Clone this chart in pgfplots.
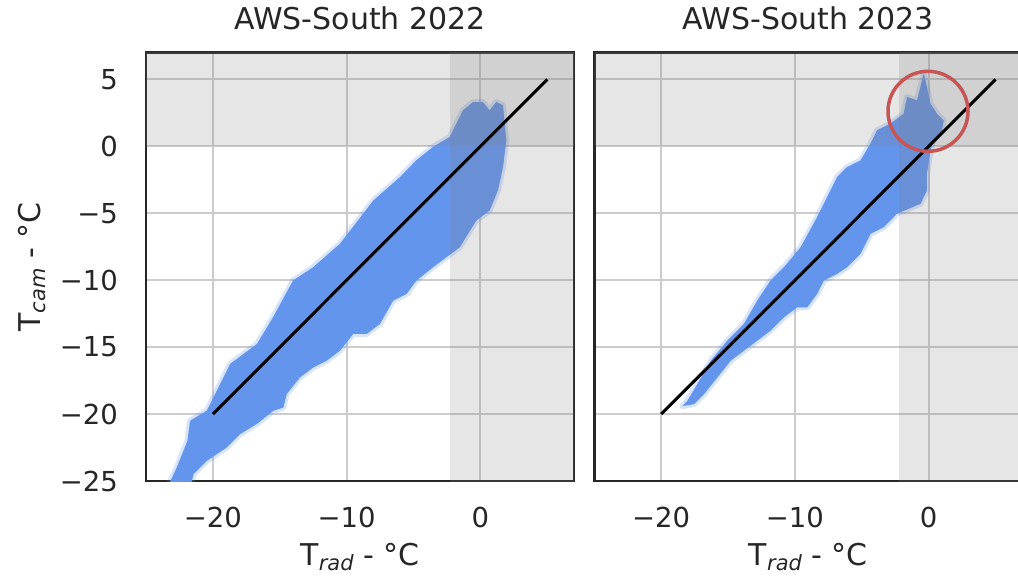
\documentclass[border=0pt]{standalone}
\usepackage{pgfplots}
\pgfplotsset{compat=1.18}
\usepackage{pgfplotstable}
\usepackage{fontspec}
\setmainfont{DejaVu Sans}
\definecolor{cblue}{RGB}{100,149,237}
\definecolor{spine}{RGB}{38,38,38}
\definecolor{circ}{RGB}{200,85,85}

\pgfplotstableread{
x y
-23.4 -25.5
-22.7 -24.0
-21.9 -22.0
-21.7 -20.5
-20.45 -19.75
-18.7 -16.25
-16.7 -14.76
-15.5 -12.77
-14.0 -10.02
-12.5 -9.03
-10.5 -7.28
-9.25 -5.66
-8.0 -4.04
-6.0 -2.29
-4.8 -1.05
-3.55 -0.05
-2.3 0.70
-1.3 2.69
-0.55 3.31
0.19 3.31
0.69 2.69
1.19 3.31
1.69 3.07
1.81 1.70
1.94 0.45
1.69 -1.55
1.31 -3.29
0.69 -4.79
-0.3 -5.53
-1.54 -7.53
-2.54 -8.28
-3.54 -9.03
-4.78 -10.02
-5.52 -11.02
-6.52 -11.52
-7.51 -13.26
-8.51 -14.01
-9.51 -14.01
-10.5 -15.26
-11.49 -16.01
-12.49 -16.51
-13.49 -17.26
-14.48 -18.50
-14.73 -19.50
-15.48 -19.75
-16.72 -20.74
-17.96 -21.49
-18.96 -22.49
-20.45 -23.49
-21.45 -24.48
-21.7 -25.5
}\cloudA

\pgfplotstableread{
x y
-18.4 -19.4
-18.03 -19.00
-17.29 -17.75
-16.29 -16.01
-15.05 -14.51
-13.81 -13.26
-12.81 -11.52
-11.82 -10.02
-10.82 -9.03
-9.57 -7.53
-8.34 -5.29
-7.59 -3.79
-6.84 -2.29
-6.10 -1.55
-5.10 -1.05
-4.35 0.20
-3.86 1.20
-2.86 1.70
-1.87 2.44
-1.62 3.69
-0.87 3.44
-0.62 4.44
-0.37 5.44
-0.13 4.44
0.13 3.19
0.62 2.44
1.12 1.94
0.99 1.20
0.37 0.45
0.13 -0.30
-0.13 -2.04
-0.13 -3.29
-0.62 -4.29
-2.37 -5.03
-3.36 -6.04
-4.35 -6.53
-5.10 -8.03
-6.10 -9.03
-6.84 -9.52
-7.84 -10.02
-8.34 -11.02
-9.08 -12.02
-9.83 -12.02
-10.82 -12.77
-11.82 -13.76
-12.81 -14.51
-13.81 -15.26
-14.80 -16.01
-15.80 -17.26
-16.79 -18.50
-17.54 -19.25
}\cloudB

\pgfplotsset{
  panel/.style={
    scale only axis, width=428pt, height=428.3pt,
    xmin=-25, xmax=7, ymin=-25, ymax=7,
    xtick={-20,-10,0}, xticklabels={−20,−10,0},
    ytick={-25,-20,-15,-10,-5,0,5},
    yticklabels={−25,−20,−15,−10,−5,0,5},
    grid=major,
    major grid style={color=gray!40, line width=2pt},
    major tick length=0pt,
    axis line style={color=spine, line width=2.6pt},
    tick label style={font=\fontsize{27.5}{33}\selectfont, text=spine, inner sep=0pt},
    xticklabel style={anchor=north, yshift=-26pt},
    yticklabel style={anchor=east, xshift=-28pt},
    title style={at={(rel axis cs:0.5,1)}, anchor=base, inner sep=0pt, yshift=16.7pt,
      font=\fontsize{30}{36}\selectfont, text=spine},
    every axis x label/.style={at={(rel axis cs:0.5,0)}, anchor=north, inner sep=0pt,
      yshift=-62pt, font=\fontsize{30}{36}\selectfont, text=spine},
    every axis y label/.style={at={(rel axis cs:0,0.5)}, anchor=center, rotate=90,
      inner sep=0pt, yshift=114pt, font=\fontsize{30}{36}\selectfont, text=spine},
  },
  halo/.style={draw=cblue, draw opacity=0.25, line width=6pt, line join=round, fill=cblue, fill opacity=0.4},
  core/.style={fill=cblue, draw=none},
  shadeV/.style={fill=gray, fill opacity=0.2, draw=none},
}

\begin{document}
\begin{tikzpicture}
\path[use as bounding box] (0pt,0pt) rectangle (1018pt,576pt);
\begin{axis}[panel, at={(146pt,95pt)}, anchor=south west,
  title={AWS-South 2022},
  xlabel={T\raisebox{-0.18em}{\fontsize{21}{21}\selectfont\itshape rad} - °C},
  ylabel={T\raisebox{-0.18em}{\fontsize{21}{21}\selectfont\itshape cam} - °C}]
\addplot[halo] table {\cloudA} -- cycle;
\addplot[core] table {\cloudA} -- cycle;
\addplot[shadeV] coordinates {(-2.25,-26) (8,-26) (8,8) (-2.25,8)} -- cycle;
\addplot[shadeV] coordinates {(-26,0) (8,0) (8,8) (-26,8)} -- cycle;
\addplot[black, line width=3pt] coordinates {(-20,-20) (5,5)};
\end{axis}
\begin{axis}[panel, at={(594.3pt,95pt)}, anchor=south west,
  title={AWS-South 2023}, yticklabels={},
  xlabel={T\raisebox{-0.18em}{\fontsize{21}{21}\selectfont\itshape rad} - °C}]
\addplot[halo] table {\cloudB} -- cycle;
\addplot[core] table {\cloudB} -- cycle;
\addplot[shadeV] coordinates {(-2.25,-26) (8,-26) (8,8) (-2.25,8)} -- cycle;
\addplot[shadeV] coordinates {(-26,0) (8,0) (8,8) (-26,8)} -- cycle;
\addplot[black, line width=3pt] coordinates {(-20,-20) (5,5)};
\addplot[only marks, mark=o, mark size=40pt, mark options={draw=circ, line width=3.5pt}] coordinates {(-0.05,2.62)};
\end{axis}
\end{tikzpicture}
\end{document}
